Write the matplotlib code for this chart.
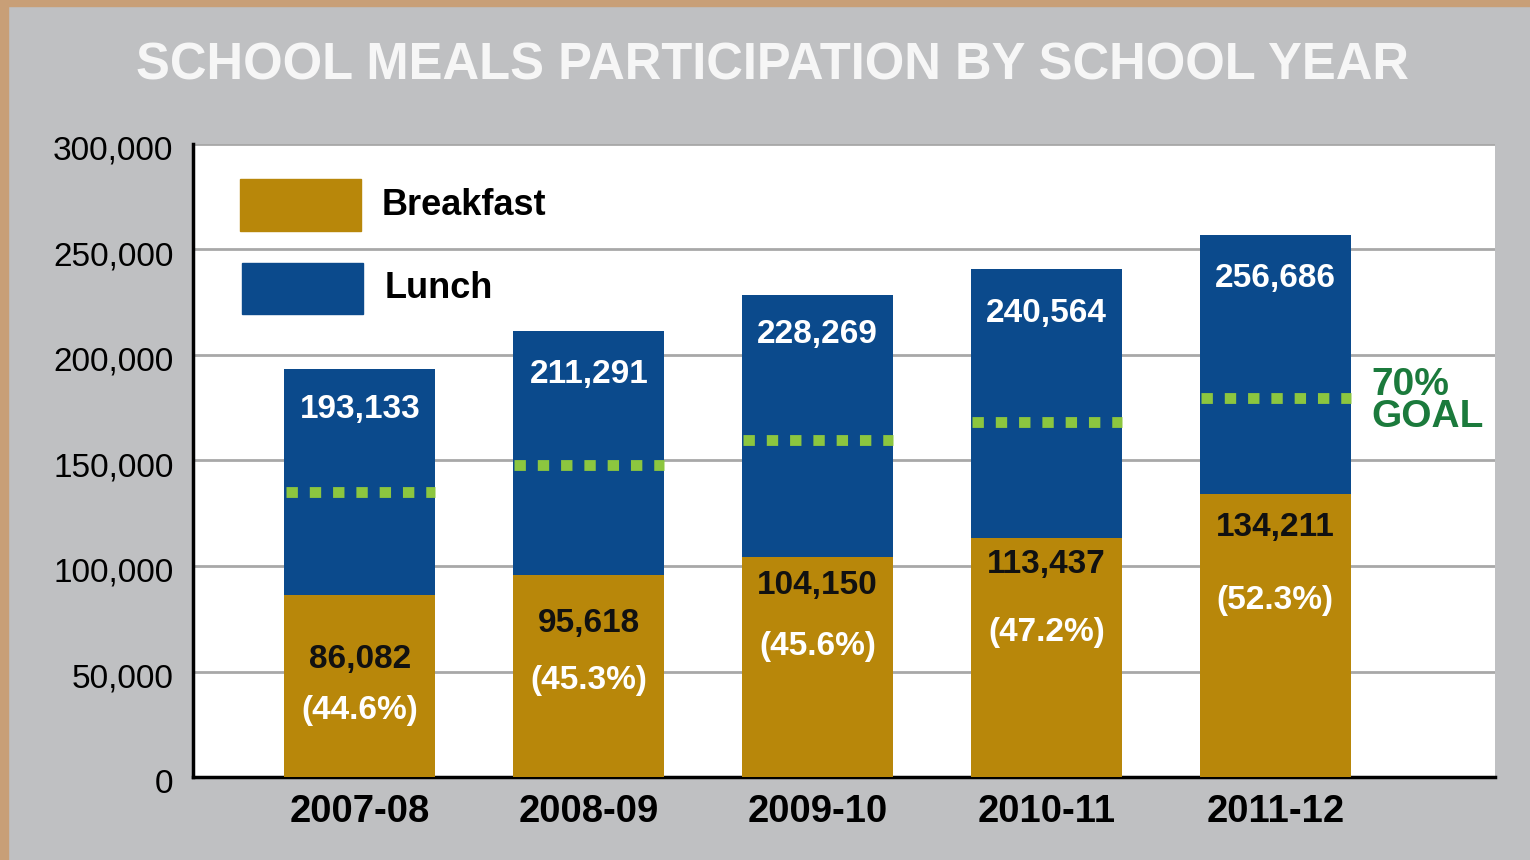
import matplotlib.pyplot as plt
from matplotlib.patches import Rectangle
from matplotlib.transforms import ScaledTranslation

# data
years = ['2007-08', '2008-09', '2009-10', '2010-11', '2011-12']
lunch = [193133, 211291, 228269, 240564, 256686]
breakfast = [86082, 95618, 104150, 113437, 134211]
pct = ['(44.6%)', '(45.3%)', '(45.6%)', '(47.2%)', '(52.3%)']
goal_rate = 0.70

# label offsets (points)
lunch_off = [-28.5, -31, -28, -32, -31]
bk_off = [-46, -35, -20, -19, -24]
pct_gap = [37, 41, 44, 49, 52.5]

gold = '#B8870A'
navy = '#0B4A8C'
bg = '#BFC0C2'
tan = '#C89F77'
dot_green = '#8CC63F'
goal_green = '#1B7A3C'

plt.rcParams['font.family'] = ['Liberation Sans', 'DejaVu Sans']

fig = plt.figure(figsize=(15.3, 8.6), dpi=100, facecolor=bg)
# tan frame on left and top
fig.patches.append(Rectangle((0, 0), 8 / 1530, 1, transform=fig.transFigure, color=tan, zorder=0))
fig.patches.append(Rectangle((0, 1 - 6 / 860), 1, 6 / 860, transform=fig.transFigure, color=tan, zorder=0))

ax = fig.add_axes([0.1261, 0.0965, 0.851, 0.7361])
ax.set_facecolor('white')

x = list(range(len(years)))
w = 0.66
ax.bar(x, lunch, width=w, color=navy, zorder=3)
ax.bar(x, breakfast, width=w, color=gold, zorder=3)

for i in x:
    g = lunch[i] * goal_rate
    ax.plot([i - w / 2 + 0.005, i + w / 2], [g, g], color=dot_green, lw=7.8,
            linestyle=(0, (1.05, 1.1)), solid_capstyle='butt', dash_capstyle='butt', zorder=4)
    ax.annotate(f'{lunch[i]:,}', (i, lunch[i]), xytext=(0, lunch_off[i]), textcoords='offset points',
                ha='center', va='center', color='white', fontsize=24, fontweight='bold', zorder=5)
    ax.annotate(f'{breakfast[i]:,}', (i, breakfast[i]), xytext=(0, bk_off[i]), textcoords='offset points',
                ha='center', va='center', color='#111111', fontsize=24, fontweight='bold', zorder=5)
    ax.annotate(pct[i], (i, breakfast[i]), xytext=(0, bk_off[i] - pct_gap[i]), textcoords='offset points',
                ha='center', va='center', color='white', fontsize=24, fontweight='bold', zorder=5)

ax.text(4 + w / 2 + 0.09, lunch[4] * goal_rate - 1500, '70%\nGOAL', color=goal_green, fontsize=28,
        fontweight='bold', ha='left', va='center', linespacing=0.85, zorder=5)

ax.set_xlim(-0.73, 4.96)
ax.set_ylim(0, 300000)
ax.set_yticks(range(0, 300001, 50000))
ax.set_yticklabels([f'{v:,}' for v in range(0, 300001, 50000)], fontsize=24)
ax.set_xticks(x)
ax.set_xticklabels(years, fontsize=27.5, fontweight='bold')
ax.tick_params(axis='y', length=0, pad=14)
ax.tick_params(axis='x', length=0, pad=12)
shift = ScaledTranslation(0, -4 / 100, fig.dpi_scale_trans)
for lab in ax.get_yticklabels():
    lab.set_transform(lab.get_transform() + shift)
ax.grid(axis='y', color='#A8A8A8', lw=2, zorder=1)
ax.spines['top'].set_visible(False)
ax.spines['right'].set_visible(False)
ax.spines['left'].set_linewidth(2.5)
ax.spines['bottom'].set_linewidth(2.5)

# legend drawn by hand
ax.add_patch(Rectangle((0.036, 0.863), 0.093, 0.081, transform=ax.transAxes, color=gold, zorder=6))
ax.add_patch(Rectangle((0.038, 0.731), 0.093, 0.081, transform=ax.transAxes, color=navy, zorder=6))
ax.text(0.145, 0.903, 'Breakfast', transform=ax.transAxes, fontsize=26, fontweight='bold',
        va='center', ha='left', zorder=6)
ax.text(0.147, 0.771, 'Lunch', transform=ax.transAxes, fontsize=26, fontweight='bold',
        va='center', ha='left', zorder=6)

fig.text(0.505, 0.923, 'SCHOOL MEALS PARTICIPATION BY SCHOOL YEAR', color='#F6F6F6',
         fontsize=36.5, fontweight='bold', ha='center', va='center')

fig.savefig('out.png', dpi=100, facecolor=bg)
